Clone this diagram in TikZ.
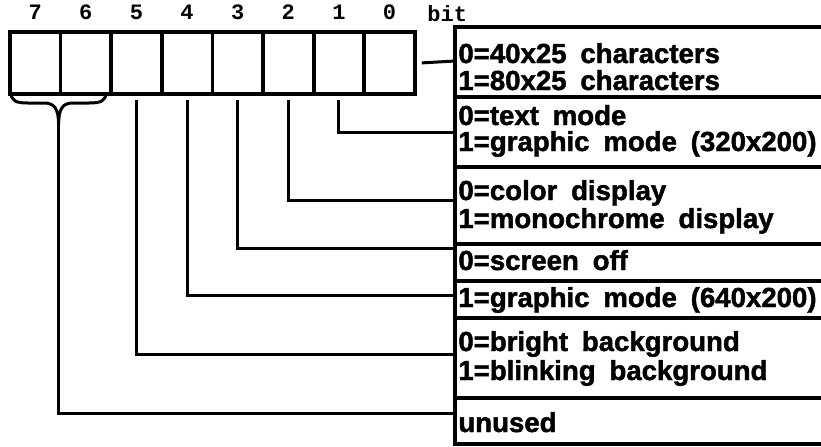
\documentclass[tikz,border=0pt]{standalone}
\usepackage{fontspec}
\setmainfont{Liberation Sans}
\newfontfamily\descfont{Liberation Sans}[BoldFeatures={FakeBold=1.6}]
\newfontfamily\bitfont{Liberation Mono}
\usetikzlibrary{positioning}

\newcommand\widespace{\spaceskip 0.5em\relax}

\tikzset{
  wire/.style={line width=1.5pt},
  frame/.style={line width=1.7pt},
  cell/.style={draw, line width=1.9pt, minimum width=25.3125pt, minimum height=31pt,
    inner sep=0pt, anchor=north west},
  bitnum/.style={font=\bitfont\bfseries\fontsize{11}{13}\selectfont, inner sep=0pt},
  desc/.style={font=\descfont\bfseries\fontsize{13.8}{15}\selectfont\widespace,
    anchor=base west, inner sep=0pt},
}

\begin{document}
\begin{tikzpicture}[x=0.5pt,y=-0.5pt]
        \useasboundingbox (0,0) rectangle (821,446);

        % the register, bit 7 on the left
        \foreach \b [evaluate=\b as \x using 8+(7-\b)*50.625] in {0,...,7} {
            \node[cell] (b\b) at (\x,30) {};
            \node[bitnum, above=5pt of b\b] (n\b) {\b};
        }
        \node[bitnum, anchor=base west] (bitlbl) at (427,21) {bit};

        % table on the right
        \draw[frame] (825,27) -| (455,444) -- (825,444);
        \foreach \yy in {97,167,244,281,318,398}
            \draw[frame] (455,\yy) -- (825,\yy);

        \node[desc] (t0a) at (458,63) {0=40x25 characters};
        \node[desc] (t0b) at (458,90) {1=80x25 characters};
        \node[desc] (t1a) at (458,125) {0=text mode};
        \node[desc] (t1b) at (458,151) {1=graphic mode (320x200)};
        \node[desc] (t2a) at (458,200) {0=color display};
        \node[desc] (t2b) at (458,228) {1=monochrome display};
        \node[desc] (t3a) at (458,270) {0=screen off};
        \node[desc] (t4a) at (458,307) {1=graphic mode (640x200)};
        \node[desc] (t5a) at (458,351) {0=bright background};
        \node[desc] (t5b) at (458,380) {1=blinking background};
        \node[desc] (t6a) at (458,432) {unused};

        \coordinate (r0) at (455,61);
        \coordinate (r1) at (455,132);
        \coordinate (r2) at (455,200);
        \coordinate (r3) at (455,248);
        \coordinate (r4) at (455,295);
        \coordinate (r5) at (455,354);
        \coordinate (r6) at (455,413);

        % connectors
        \draw[wire] ([xshift=2.5pt]b0.east) -- (r0);
        \foreach \b in {1,...,5}
            \draw[wire] ([yshift=-2pt]b\b.south) |- (r\b);

        % brace under bits 7 and 6
        \coordinate (tip) at (58.6,125);
        \draw[wire] (11,92) .. controls (11,101) and (16,103) .. (28,103) -- (44,103)
            .. controls (54,103) and (58.6,108) .. (tip)
            .. controls (58.6,108) and (63,103) .. (73,103) -- (89,103)
            .. controls (101,103) and (106,101) .. (106,92);
        \draw[wire] (tip) |- (r6);
    \end{tikzpicture}
\end{document}
